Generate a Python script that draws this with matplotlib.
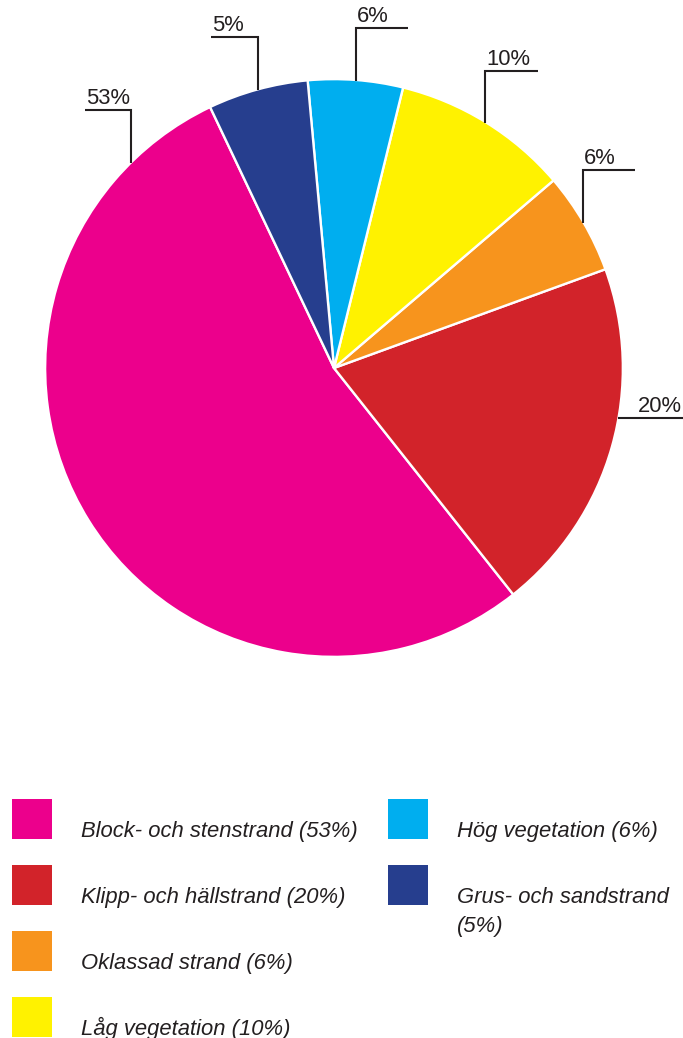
import numpy as np
import matplotlib.pyplot as plt
from matplotlib.patches import Rectangle

plt.rcParams['font.family'] = ['Liberation Sans', 'DejaVu Sans']

# shore types, legend order (also the pie order, counter-clockwise)
categories = ['Block- och stenstrand', 'Klipp- och hällstrand', 'Oklassad strand',
              'Låg vegetation', 'Hög vegetation', 'Grus- och sandstrand']
shares = [53.6, 19.9, 5.7, 9.9, 5.3, 5.6]
pct_labels = ['53%', '20%', '6%', '10%', '6%', '5%']
legend_labels = ['Block- och stenstrand (53%)', 'Klipp- och hällstrand (20%)',
                 'Oklassad strand (6%)', 'Låg vegetation (10%)',
                 'Hög vegetation (6%)', 'Grus- och sandstrand\n(5%)']
colors = ['#ec008c', '#d2232a', '#f7941d', '#fff200', '#00aeef', '#263e8e']
ink = '#231f20'

# layout, in pixels of the 683x1038 picture
W, H = 683, 1038
R = 288            # pie radius in px -> one data unit
cx, cy = 334, 368  # pie centre, px from top-left

def px(x, y):
    # picture pixel (from top-left) -> data coords
    return (x - cx) / R, (cy - y) / R

fig = plt.figure(figsize=(W / 100, H / 100), dpi=100)
ax = fig.add_axes([0, 0, 1, 1])

wedges, _ = ax.pie(shares, colors=colors, startangle=115.4, counterclock=True,
                   radius=1.003, wedgeprops=dict(edgecolor='white', linewidth=1.7))

ax.set_xlim(-cx / R, (W - cx) / R)
ax.set_ylim(-(H - cy) / R, cy / R)
ax.set_aspect('equal', adjustable='box')
ax.axis('off')

# leader lines: up from the rim, then sideways; label sits on the horizontal
anchor_frac = [0.1, 0.58, 0.5, 0.5, 0.5, 0.5]
rise = [53, 0, 53, 52, 53, 53]
run = [-46, 65, 52, 53, 52, -47]
label_ha = ['left', 'right', 'left', 'left', 'left', 'left']

for w, lab, f, up, side, ha in zip(wedges, pct_labels, anchor_frac, rise, run, label_ha):
    ang = np.deg2rad(w.theta1 + f * (w.theta2 - w.theta1))
    x0, y0 = np.cos(ang), np.sin(ang)
    y1 = y0 + up / R
    x1 = x0 + side / R
    ax.plot([x0, x0, x1], [y0, y1, y1], color=ink, lw=1.5,
            solid_capstyle='butt', solid_joinstyle='miter', clip_on=False)
    tx = min(x0, x1) + 1 / R if ha == 'left' else max(x0, x1) - 1 / R
    ax.text(tx, y1 + 6 / R, lab, ha=ha, va='baseline', fontsize=15.8, color=ink)

# legend: two columns of colour squares with italic text
sq = 40
sq_x = [12, 388]
txt_x = [81, 457]
top0, step = 799, 66
for i, (lab, col) in enumerate(zip(legend_labels, colors)):
    c, r = (0, i) if i < 4 else (1, i - 4)
    top = top0 + r * step
    x0, y0 = px(sq_x[c], top + sq)
    ax.add_patch(Rectangle((x0, y0), sq / R, sq / R, facecolor=col,
                           edgecolor='none', clip_on=False))
    lines = lab.split('\n')
    for k, line in enumerate(lines):
        tx, ty = px(txt_x[c], top + 38 + k * 29)
        ax.text(tx, ty, line, ha='left', va='baseline', fontsize=15.8,
                style='italic', color=ink)

fig.savefig('out.png', dpi=100, facecolor='white')
